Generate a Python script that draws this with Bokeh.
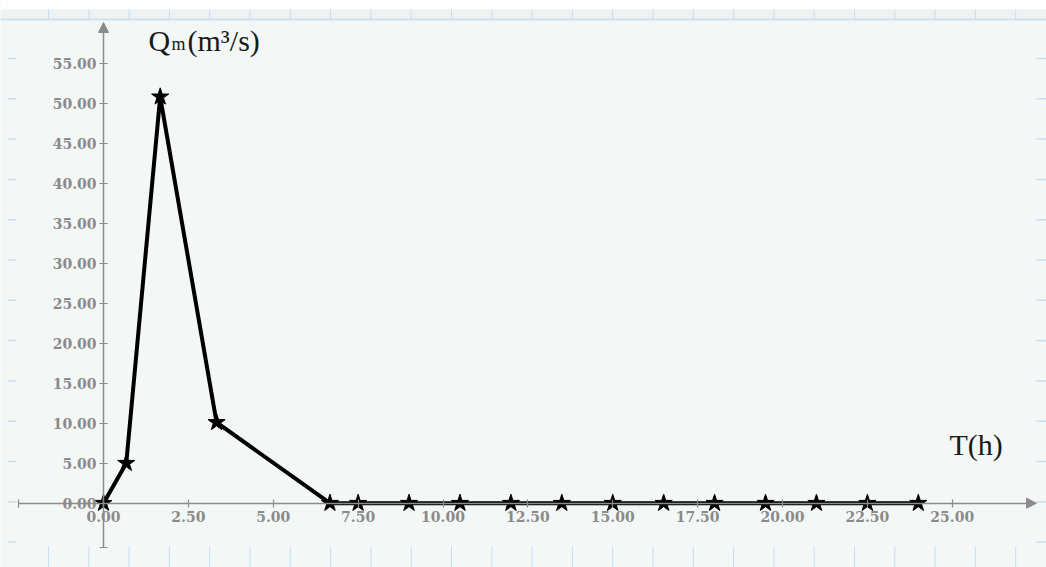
from bokeh.plotting import figure
from bokeh.models import (Range1d, LinearAxis, FixedTicker, PrintfTickFormatter,
                          Arrow, NormalHead)
from bokeh.core.properties import value
from bokeh.embed import file_html
from bokeh.resources import INLINE

# ---- data ----
T_hours = [0, 0.67, 1.67, 3.33, 6.67, 7.5, 9, 10.5, 12, 13.5, 15, 16.5, 18, 19.5, 21, 22.5, 24]
Q_flow = [0, 5.0, 50.8, 10.1, 0, 0, 0, 0, 0, 0, 0, 0, 0, 0, 0, 0, 0]
x_ticks = [-2.5, 0, 2.5, 5, 7.5, 10, 12.5, 15, 17.5, 20, 22.5, 25]
y_ticks = [-5.5, 0, 5, 10, 15, 20, 25, 30, 35, 40, 45, 50, 55]
y_label_main = "Q"
y_label_sub = "m"
y_label_rest = "(m\u00b3/s)"
x_label = "T(h)"

# ---- page-pixel <-> data helpers (layout only) ----
W, H = 1046, 567
OFF = 0
X0, SX = 103.0, 33.95
Y0, SY = 502.7, 8.0


def dx(px):
    return (px - X0) / SX


def dy(py):
    return (Y0 - py) / SY


BG = "#f3f7f6"
AX = "#8c8c8c"
RULER = "#c8dcee"

p = figure(width=W, height=H,
           x_range=Range1d(dx(OFF), dx(OFF + W)),
           y_range=Range1d(dy(OFF + H), dy(OFF)),
           x_axis_location=None, y_axis_location=None,
           min_border=0, toolbar_location=None, output_backend="svg",
           background_fill_color=BG, border_fill_color=BG,
           outline_line_color=None)
p.xgrid.visible = False
p.ygrid.visible = False

# ---- decorative ruler (Mathcad-like) ----
p.quad(left=[dx(0)], right=[dx(1046)], top=[dy(-2)], bottom=[dy(9)],
       fill_color="white", line_color=None)
p.quad(left=[dx(0)], right=[dx(1046)], top=[dy(9)], bottom=[dy(19)],
       fill_color="#edf3f3", line_color=None)
p.segment(x0=[dx(0)], x1=[dx(1046)], y0=[dy(19)], y1=[dy(19)],
          line_color=RULER, line_width=1.5)
rx = [48 + 40.3 * k for k in range(25)]
p.segment(x0=[dx(v) for v in rx], x1=[dx(v) for v in rx],
          y0=[dy(9)] * len(rx), y1=[dy(19)] * len(rx), line_color=RULER, line_width=1)
p.segment(x0=[dx(v) for v in rx], x1=[dx(v) for v in rx],
          y0=[dy(546)] * len(rx), y1=[dy(567)] * len(rx), line_color=RULER, line_width=1)
ry = [58 + 40.3 * k for k in range(13)]
p.segment(x0=[dx(8)] * len(ry), x1=[dx(16)] * len(ry),
          y0=[dy(v) for v in ry], y1=[dy(v) for v in ry], line_color=RULER, line_width=1.5)
p.segment(x0=[dx(1036)] * len(ry), x1=[dx(1046)] * len(ry),
          y0=[dy(v) for v in ry], y1=[dy(v) for v in ry], line_color=RULER, line_width=1.5)

# ---- axes crossing at origin ----
def style_axis(ax):
    ax.axis_line_color = AX
    ax.axis_line_width = 1.5
    ax.major_tick_line_color = AX
    ax.major_tick_line_width = 1.2
    ax.major_tick_in = 4
    ax.major_tick_out = 4
    ax.minor_tick_line_color = None
    ax.major_label_text_font = "DejaVu Serif"
    ax.major_label_text_font_size = "14px"
    ax.major_label_text_font_style = "bold"
    ax.major_label_text_color = "#8a8a8a"
    ax.formatter = PrintfTickFormatter(format="%.2f")


xaxis = LinearAxis(fixed_location=0, ticker=FixedTicker(ticks=x_ticks),
                   bounds=(x_ticks[0], dx(1026)))
style_axis(xaxis)
xaxis.major_label_standoff = 4
xaxis.major_label_overrides = {x_ticks[0]: ""}
p.add_layout(xaxis, "below")

yaxis = LinearAxis(fixed_location=0, ticker=FixedTicker(ticks=y_ticks),
                   bounds=(y_ticks[0], dy(31)))
style_axis(yaxis)
yaxis.major_label_standoff = 3
yaxis.major_label_overrides = {y_ticks[0]: ""}
p.add_layout(yaxis, "left")

p.add_layout(Arrow(end=NormalHead(size=10, fill_color=AX, line_color=AX),
                   x_start=0, y_start=dy(32), x_end=0, y_end=dy(22),
                   line_alpha=0))
p.add_layout(Arrow(end=NormalHead(size=10, fill_color=AX, line_color=AX),
                   x_start=dx(1025), y_start=0, x_end=dx(1036), y_end=0,
                   line_alpha=0))

# ---- data series ----
p.line(T_hours, Q_flow, line_color="black", line_width=4)
p.scatter(T_hours, Q_flow, marker="star", size=18, fill_color="black",
          line_color="black", line_width=1)

# ---- axis titles ----
serif = value("Liberation Serif")
p.text(x=[dx(148)], y=[dy(40)], text=[y_label_main], text_font=serif,
       text_font_size="30px", text_color="#1a1a1a", text_baseline="middle")
p.text(x=[dx(171)], y=[dy(43)], text=[y_label_sub], text_font=serif,
       text_font_size="18px", text_color="#1a1a1a", text_baseline="middle")
p.text(x=[dx(187)], y=[dy(40)], text=[y_label_rest], text_font=serif,
       text_font_size="30px", text_color="#1a1a1a", text_baseline="middle")
p.text(x=[dx(949)], y=[dy(444)], text=[x_label], text_font=serif,
       text_font_size="30px", text_color="#1a1a1a", text_baseline="middle")

open("out.html", "w").write(file_html(p, INLINE))
